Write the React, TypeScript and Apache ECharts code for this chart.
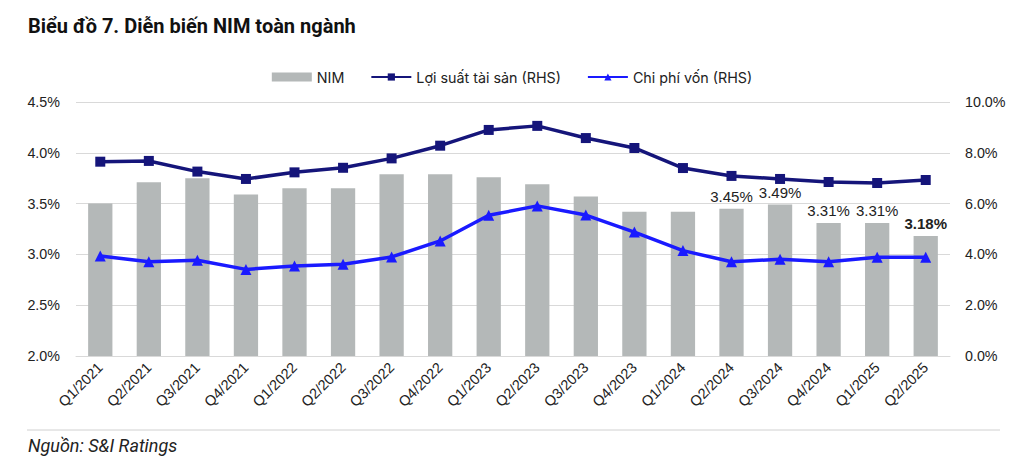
import React, { useEffect, useRef } from "react";
import * as echarts from "echarts";

const categories = [
  "Q1/2021", "Q2/2021", "Q3/2021", "Q4/2021",
  "Q1/2022", "Q2/2022", "Q3/2022", "Q4/2022",
  "Q1/2023", "Q2/2023", "Q3/2023", "Q4/2023",
  "Q1/2024", "Q2/2024", "Q3/2024", "Q4/2024",
  "Q1/2025", "Q2/2025",
];
const nim = [3.5, 3.71, 3.75, 3.59, 3.65, 3.65, 3.79, 3.79, 3.76, 3.69, 3.57, 3.42, 3.42, 3.45, 3.49, 3.31, 3.31, 3.18];
const assetYield = [7.65, 7.68, 7.26, 6.97, 7.23, 7.41, 7.78, 8.28, 8.9, 9.06, 8.58, 8.19, 7.4, 7.09, 6.97, 6.85, 6.81, 6.93];
const costOfFunds = [3.94, 3.71, 3.77, 3.41, 3.54, 3.61, 3.9, 4.53, 5.54, 5.91, 5.55, 4.88, 4.15, 3.71, 3.81, 3.71, 3.89, 3.89];
const labelledFrom = 13;

const FONT = "Liberation Sans, Arial, sans-serif";

export default function App() {
  const ref = useRef<HTMLDivElement>(null);
  useEffect(() => {
    if (!ref.current) return;
    const chart = echarts.init(ref.current, null, { renderer: "svg" });
    const last = nim.length - 1;
    chart.setOption({
      animation: false,
      backgroundColor: "#ffffff",
      textStyle: { fontFamily: FONT },
      title: {
        text: "Biểu đồ 7. Diễn biến NIM toàn ngành",
        left: 28,
        top: 16,
        padding: 0,
        textStyle: { fontFamily: "Roboto", fontWeight: "bold", fontSize: 20, color: "#111" },
      },
      legend: {
        top: 65,
        left: "center",
        itemWidth: 40,
        itemHeight: 9,
        itemGap: 26,
        textStyle: { fontFamily: "Inter, Roboto, sans-serif", fontSize: 14.3, color: "#222" },
        data: [
          { name: "NIM", icon: "rect" },
          { name: "Lợi suất tài sản (RHS)" },
          { name: "Chi phí vốn (RHS)" },
        ],
      },
      grid: { left: 76, right: 74, top: 102, bottom: 115, containLabel: false },
      xAxis: {
        type: "category",
        data: categories,
        axisTick: { show: false },
        axisLine: { lineStyle: { color: "#d9d9d9", width: 1 } },
        axisLabel: { rotate: 45, fontSize: 14.5, color: "#222", margin: 9, fontFamily: FONT },
      },
      yAxis: [
        {
          type: "value",
          min: 2.0,
          max: 4.5,
          interval: 0.5,
          axisLine: { show: false },
          axisTick: { show: false },
          splitLine: { lineStyle: { color: "#d9d9d9", width: 1 } },
          axisLabel: { formatter: (v: number) => v.toFixed(1) + "%", fontSize: 14.3, color: "#222", margin: 16, fontFamily: FONT },
        },
        {
          type: "value",
          min: 0,
          max: 10,
          interval: 2,
          axisLine: { show: false },
          axisTick: { show: false },
          splitLine: { show: false },
          axisLabel: { formatter: (v: number) => v.toFixed(1) + "%", fontSize: 14.3, color: "#222", margin: 15, fontFamily: FONT },
        },
      ],
      series: [
        {
          name: "NIM",
          type: "bar",
          yAxisIndex: 0,
          barWidth: "50%",
          itemStyle: { color: "#b4b8b8" },
          data: nim.map((v, i) => ({
            value: v,
            label: {
              show: i >= labelledFrom,
              position: "top",
              distance: 5,
              formatter: (p: any) => Number(p.value).toFixed(2) + "%",
              fontSize: 15,
              color: "#222",
              fontFamily: FONT,
              fontWeight: i === last ? "bold" : "normal",
            },
          })),
        },
        {
          name: "Lợi suất tài sản (RHS)",
          type: "line",
          yAxisIndex: 1,
          data: assetYield,
          symbol: "rect",
          symbolSize: 10,
          lineStyle: { color: "#15157a", width: 3.5 },
          itemStyle: { color: "#15157a" },
        },
        {
          name: "Chi phí vốn (RHS)",
          type: "line",
          yAxisIndex: 1,
          data: costOfFunds,
          symbol: "triangle",
          symbolSize: 11,
          lineStyle: { color: "#1a1aff", width: 3.5 },
          itemStyle: { color: "#1a1aff" },
        },
      ],
      graphic: [
        {
          type: "line",
          shape: { x1: 27, y1: 430, x2: 1000, y2: 430 },
          style: { stroke: "#d0d0d0", lineWidth: 1 },
        },
        {
          type: "text",
          left: 28,
          top: 436,
          style: { text: "Nguồn: S&I Ratings", font: "italic 18px Roboto", fill: "#222" },
        },
      ],
    });
    return () => chart.dispose();
  }, []);
  return <div ref={ref} style={{ position: "absolute", left: 0, top: 0, width: 1024, height: 471 }} />;
}
